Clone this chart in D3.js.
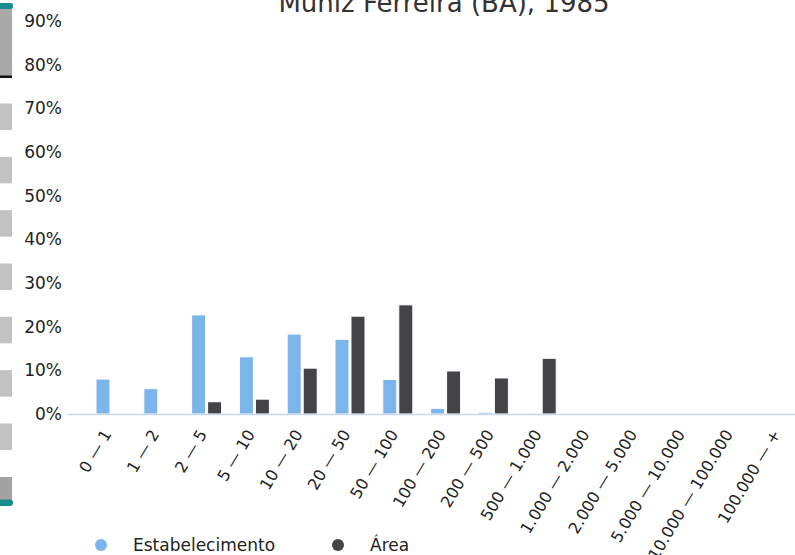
<!DOCTYPE html>
<html>
<head>
<meta charset="utf-8">
<script src="https://cdn.jsdelivr.net/npm/d3@7/dist/d3.min.js"></script>
<style>
  html, body { margin: 0; padding: 0; background: #ffffff; }
  svg { display: block; font-family: "DejaVu Sans", sans-serif; }
</style>
</head>
<body>
<svg id="chart" width="795" height="555"></svg>
<script>
const title = "Muniz Ferreira (BA), 1985";
const categories = ["0 — 1", "1 — 2", "2 — 5", "5 — 10", "10 — 20", "20 — 50", "50 — 100",
  "100 — 200", "200 — 500", "500 — 1.000", "1.000 — 2.000", "2.000 — 5.000",
  "5.000 — 10.000", "10.000 — 100.000", "100.000 — +"];
const seriesNames = ["Estabelecimento", "Área"];
const estabelecimento = [8.0, 5.8, 22.7, 13.1, 18.3, 17.1, 7.9, 1.3, 0.4, 0.1, 0, 0, 0, 0, 0];
const area = [0, 0, 2.8, 3.4, 10.5, 22.4, 25.0, 9.85, 8.25, 12.75, 0, 0, 0, 0, 0];
const yTicks = [0, 10, 20, 30, 40, 50, 60, 70, 80, 90];
const colors = ["#7cb5ec", "#434348"];

const svg = d3.select("#chart");

// decorative vertical navigator strip on the left edge
const strip = svg.append("g");
strip.append("rect").attr("x", 0).attr("y", 8).attr("width", 12).attr("height", 69).attr("fill", "#a9a9a9");
strip.append("rect").attr("x", -4).attr("y", 3).attr("width", 17).attr("height", 6).attr("rx", 2.5).attr("fill", "#178c8c");
strip.append("rect").attr("x", 0).attr("y", 75.5).attr("width", 12).attr("height", 2.5).attr("fill", "#111");
for (let k = 0; k < 7; k++) {
  strip.append("rect").attr("x", 0).attr("y", 103.5 + k * 53.33).attr("width", 12).attr("height", 26.5).attr("fill", "#c2c2c2");
}
strip.append("rect").attr("x", 0).attr("y", 477).attr("width", 12).attr("height", 24).attr("fill", "#a3a3a3");
strip.append("rect").attr("x", -4).attr("y", 499.5).attr("width", 17).attr("height", 6.5).attr("rx", 3).attr("fill", "#178c8c");

const y = d3.scaleLinear().domain([0, 90]).range([414, 21]);
const x0 = d3.scaleBand().domain(categories).range([87.1, 87.1 + 15 * 47.8]).paddingInner(0).paddingOuter(0);
const x1 = d3.scaleBand().domain(seriesNames).range([0, 30]).paddingInner(0.125).paddingOuter(0);

// title
svg.append("text").attr("x", 444).attr("y", 12).attr("text-anchor", "middle")
  .attr("font-size", 26).attr("fill", "#333333").text(title);

// y axis labels
const yAxis = d3.axisLeft(y).tickValues(yTicks).tickFormat(d => d + "%").tickSize(0).tickPadding(0);
const gy = svg.append("g").attr("transform", "translate(62,0)").call(yAxis);
gy.select(".domain").remove();
gy.selectAll("text").attr("font-size", 17).attr("fill", "#222222")
  .attr("font-family", "DejaVu Sans, sans-serif").attr("dy", "0.33em");

// bars
const data = categories.map((c, i) => ({ c, vals: [estabelecimento[i], area[i]] }));
const groups = svg.append("g").selectAll("g").data(data).join("g")
  .attr("transform", d => `translate(${x0(d.c) + x0.bandwidth() / 2 - 15},0)`);
groups.selectAll("rect").data(d => d.vals.map((v, j) => ({ v, s: seriesNames[j], j })))
  .join("rect")
  .attr("x", d => x1(d.s))
  .attr("width", x1.bandwidth())
  .attr("y", d => y(d.v))
  .attr("height", d => Math.max(0, y(0) - y(d.v)))
  .attr("fill", d => colors[d.j])
  .attr("stroke", "#ffffff").attr("stroke-width", 1);

// x axis
const xAxis = d3.axisBottom(x0).tickSize(0).tickPadding(0);
const gx = svg.append("g").attr("transform", `translate(0,${y(0)})`).call(xAxis);
gx.select(".domain").remove();
svg.append("line").attr("x1", 67).attr("x2", 795).attr("y1", 414.5).attr("y2", 414.5)
  .attr("stroke", "#ccd6eb").attr("stroke-width", 1.5);
gx.selectAll(".tick text")
  .attr("font-size", 16).attr("fill", "#222222").attr("font-family", "DejaVu Sans, sans-serif")
  .attr("text-anchor", "end").attr("dy", null).attr("y", null)
  .attr("transform", "translate(1,20) rotate(-59)");

// legend
const legend = svg.append("g");
const legendItems = [{ name: seriesNames[0], cx: 101, tx: 133 }, { name: seriesNames[1], cx: 338, tx: 370 }];
legendItems.forEach((it, i) => {
  legend.append("circle").attr("cx", it.cx).attr("cy", 545).attr("r", 6).attr("fill", colors[i]);
  legend.append("text").attr("x", it.tx).attr("y", 551).attr("font-size", 17).attr("fill", "#222222").text(it.name);
});
</script>
</body>
</html>
